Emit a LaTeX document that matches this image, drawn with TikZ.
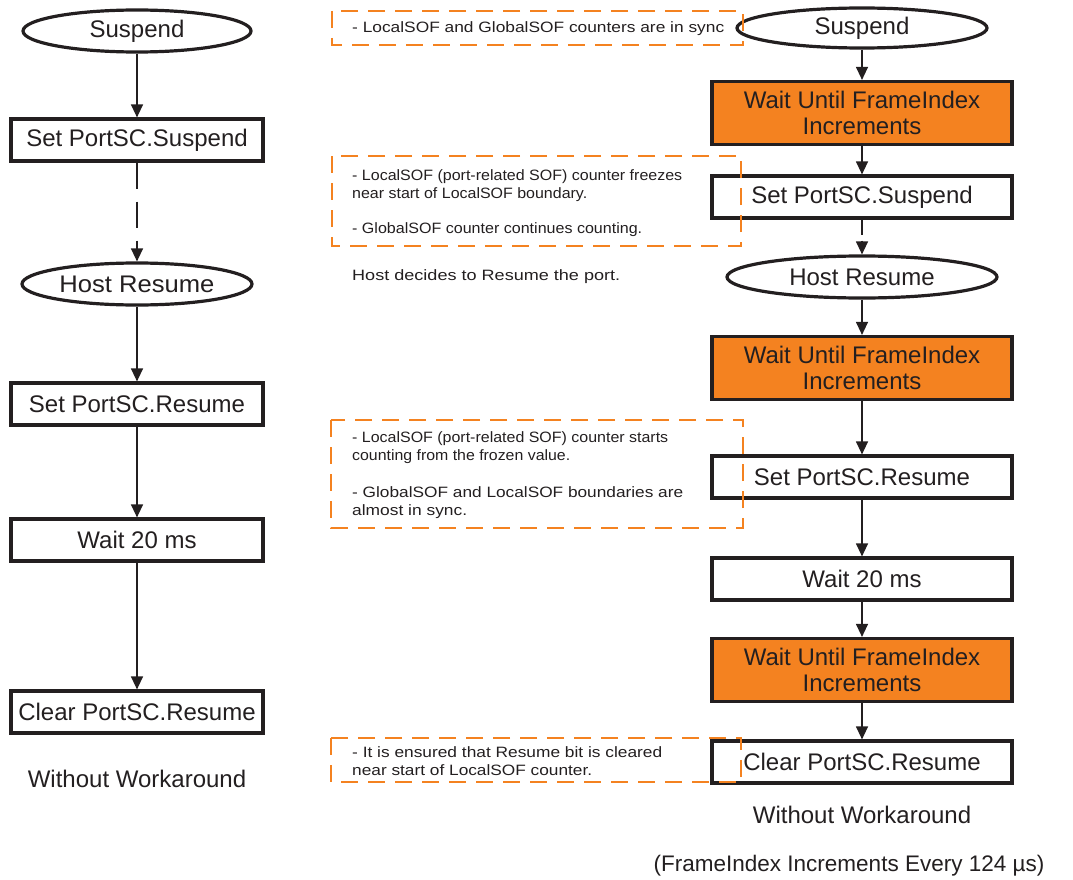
\documentclass[tikz,border=0pt]{standalone}
\usepackage{graphicx}
\usepackage{fontspec}
\setmainfont{Liberation Sans}
\usetikzlibrary{shapes.geometric,arrows.meta}
\definecolor{flowor}{RGB}{244,130,32}
\definecolor{ink}{RGB}{35,31,32}
% set a line of text to a given width, keeping its height
\newcommand{\fitwidth}[2]{\resizebox{#1}{\height}{#2}}
\begin{document}
\begin{tikzpicture}[x=1pt,y=-1pt,
  every node/.style={text=ink},
  big/.style={font=\fontsize{24}{26}\selectfont},
  small/.style={font=\fontsize{15}{19}\selectfont, anchor=base west, inner sep=0pt},
  oval/.style={big, ellipse, draw=ink, line width=3.2pt, inner sep=0pt},
  stepbox/.style={big, rectangle, draw=ink, line width=3.2pt, inner sep=0pt,
    minimum height=42pt},
  waitbox/.style={stepbox, fill=flowor, align=center, minimum height=63pt},
  flow/.style={draw=ink, line width=1.3pt, -{Triangle[length=13pt,width=12pt]}},
  gapflow/.style={flow, dash pattern=on 26pt off 13pt},
  note/.style={draw=flowor, line width=2.8pt, dash pattern=on 17pt off 10pt},
]
\useasboundingbox (0,0) rectangle (1073,880);

% ---------- left column ----------
\node[oval, minimum width=228pt, minimum height=42pt] (lsus) at (137,31) {Suspend};
\node[stepbox, minimum width=252pt] (lset) at (137,140) {Set PortSC.Suspend};
\node[oval, minimum width=230pt, minimum height=42pt] (lhost) at (137,284) {\fitwidth{155pt}{Host Resume}};
\node[stepbox, minimum width=252pt] (lres) at (137,404) {Set PortSC.Resume};
\node[stepbox, minimum width=252pt] (lwait) at (137,540) {Wait 20 ms};
\node[stepbox, minimum width=252pt] (lclr) at (137,712) {Clear PortSC.Resume};
\node[big] (lcap) at (137,779) {Without Workaround};

\draw[flow] (lsus) -- (lset);
\draw[gapflow] (lset) -- (lhost);
\draw[flow] (lhost) -- (lres);
\draw[flow] (lres) -- (lwait);
\draw[flow] (lwait) -- (lclr);

% ---------- right column ----------
\node[oval, minimum width=250pt, minimum height=40pt] (rsus) at (862,28) {Suspend};
\node[waitbox, minimum width=300pt] (rw1) at (862,113) {Wait Until FrameIndex\\Increments};
\node[stepbox, minimum width=300pt] (rset) at (862,197) {Set PortSC.Suspend};
\node[oval, minimum width=270pt, minimum height=42pt] (rhost) at (862,277) {Host Resume};
\node[waitbox, minimum width=300pt] (rw2) at (862,368) {Wait Until FrameIndex\\Increments};
\node[stepbox, minimum width=300pt] (rres) at (862,477) {Set PortSC.Resume};
\node[stepbox, minimum width=300pt] (rwait) at (862,579) {Wait 20 ms};
\node[waitbox, minimum width=300pt] (rw3) at (862,670) {Wait Until FrameIndex\\Increments};
\node[stepbox, minimum width=300pt] (rclr) at (862,762) {Clear PortSC.Resume};
\node[big] (rcap) at (862,815) {Without Workaround};
\node[font=\fontsize{22.5}{26}\selectfont] (rnote) at (849,866) {(FrameIndex Increments Every 124 µs)};

\draw[flow] (rsus) -- (rw1);
\draw[flow] (rw1) -- (rset);
\draw[gapflow, dash pattern=on 15pt off 6pt] (rset) -- (rhost);
\draw[flow] (rhost) -- (rw2);
\draw[flow] (rw2) -- (rres);
\draw[flow] (rres) -- (rwait);
\draw[flow] (rwait) -- (rw3);
\draw[flow] (rw3) -- (rclr);

% ---------- remarks ----------
\node[small] (t1) at (352,33) {\fitwidth{372pt}{- LocalSOF and GlobalSOF counters are in sync}};

\node[small] (t2a) at (352,180) {\fitwidth{330pt}{- LocalSOF (port-related SOF) counter freezes}};
\node[small] (t2b) at (352,198) {\fitwidth{235pt}{near start of LocalSOF boundary.}};
\node[small] (t2c) at (352,233) {\fitwidth{290pt}{- GlobalSOF counter continues counting.}};

\node[small] (t3) at (352,280) {\fitwidth{268pt}{Host decides to Resume the port.}};

\node[small] (t4a) at (352,442) {\fitwidth{316pt}{- LocalSOF (port-related SOF) counter starts}};
\node[small] (t4b) at (352,460) {\fitwidth{218pt}{counting from the frozen value.}};
\node[small] (t4c) at (352,497) {\fitwidth{331pt}{- GlobalSOF and LocalSOF boundaries are}};
\node[small] (t4d) at (352,515) {\fitwidth{115pt}{almost in sync.}};

\node[small] (t5a) at (352,757) {\fitwidth{310pt}{- It is ensured that Resume bit is cleared}};
\node[small] (t5b) at (352,775) {\fitwidth{240pt}{near start of LocalSOF counter.}};

% dashed frames round the remarks, drawn over the flow boxes
\draw[note] (332,11) rectangle (743,45);
\draw[note] (332,156) rectangle (741,246);
\draw[note] (331,420) rectangle (743,528);
\draw[note] (331,738) rectangle (741,782);
\end{tikzpicture}
\end{document}
